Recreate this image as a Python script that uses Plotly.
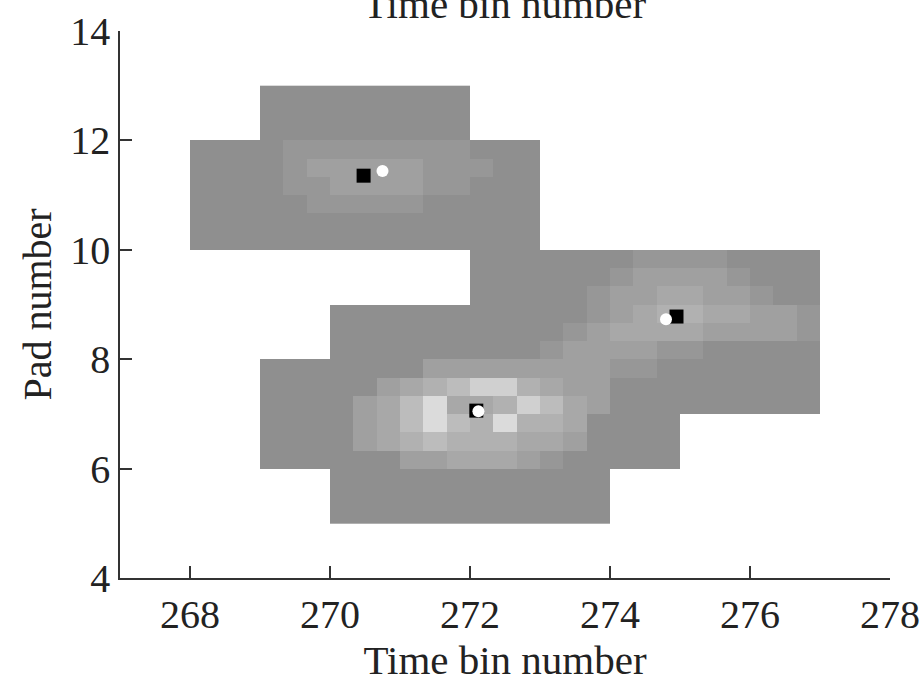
import numpy as np
import plotly.graph_objects as go

# Charge map on a sub-bin grid: 1/3 time bin by 1/3 pad per cell.
# Each string is one row (top row first), each character one cell:
# '.' = no signal, digit = relative amplitude level.
t_start = 268.0
pad_top = 13.0
cell = 1.0 / 3.0
charge_rows = [
    "...000000000...............",
    "...000000000...............",
    "...000000000...............",
    "000011111111000............",
    "000012222211100............",
    "000011222211000............",
    "000001111100000............",
    "000000000000000............",
    "000000000000000............",
    "............000000011110000",
    "............000000122221000",
    "............000001223322100",
    "......000000000001234433221",
    "......000000000012333322221",
    "......000000000122221100000",
    "...000000022222222110000000",
    "...000002345774322000000000",
    "...000023583347532000000000",
    "...000023585484430000......",
    "...000023454443320000......",
    "...000000223332100000......",
    "......000000000000.........",
    "......000000000000.........",
    "......000000000000.........",
]

# Reconstructed cluster centres (black) and true hit positions (white)
reco_time = [270.48, 272.09, 274.95]
reco_pad = [11.355, 7.06, 8.78]
true_time = [270.75, 272.12, 274.80]
true_pad = [11.44, 7.05, 8.73]

x_ticks = [268, 270, 272, 274, 276, 278]
y_ticks = [4, 6, 8, 10, 12, 14]

z = np.array([[np.nan if ch == "." else float(ch) for ch in row] for row in charge_rows])

grays = [143, 151, 160, 168, 177, 188, 198, 208, 219]
colorscale = [[i / 8, f"rgb({g},{g},{g})"] for i, g in enumerate(grays)]

fig = go.Figure()
fig.add_trace(go.Heatmap(
    z=z, x0=t_start + cell / 2, dx=cell, y0=pad_top - cell / 2, dy=-cell,
    zmin=0, zmax=8, colorscale=colorscale, showscale=False, hoverongaps=False,
))
fig.add_trace(go.Scatter(
    x=reco_time, y=reco_pad, mode="markers",
    marker=dict(symbol="square", size=14, color="black"), showlegend=False,
))
fig.add_trace(go.Scatter(
    x=true_time, y=true_pad, mode="markers",
    marker=dict(symbol="circle", size=12, color="white"), showlegend=False,
))

serif = "Liberation Serif"
axis_style = dict(
    showline=True, linecolor="#333", linewidth=1.5, mirror=False,
    ticks="inside", ticklen=12, tickwidth=1.5, tickcolor="#333",
    showgrid=False, zeroline=False, automargin=False,
    tickfont=dict(family=serif, size=40, color="#222"),
)

fig.update_layout(
    width=923, height=684,
    margin=dict(l=120, r=33, t=31, b=106),
    paper_bgcolor="white", plot_bgcolor="white",
    font=dict(family=serif, size=40, color="#222"),
    xaxis=dict(range=[267, 278], tickvals=x_ticks, **axis_style,
               title=dict(text="Time bin number", font=dict(family=serif, size=41), standoff=6)),
    yaxis=dict(range=[4, 14], tickvals=y_ticks, **axis_style,
               title=dict(text="Pad number", font=dict(family=serif, size=40), standoff=6)),
    annotations=[dict(
        text="Time bin number", xref="paper", yref="paper", x=0.5, y=1.0,
        yshift=2, xanchor="center", yanchor="bottom", showarrow=False,
        font=dict(family=serif, size=41, color="#222"),
    )],
)

fig.write_html("out.html")
